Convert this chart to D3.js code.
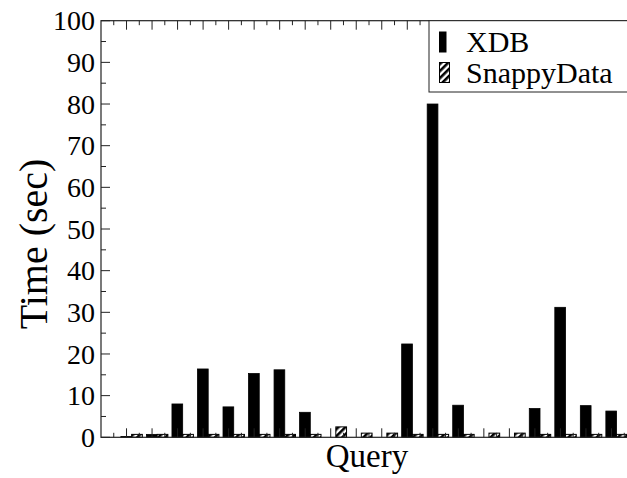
<!DOCTYPE html>
<html>
<head>
<meta charset="utf-8">
<script src="https://cdn.jsdelivr.net/npm/d3@7"></script>
<style>
  html, body { margin: 0; padding: 0; background: #fff; }
  svg { display: block; font-family: "Liberation Serif", "DejaVu Serif", serif; }
</style>
</head>
<body>
<div id="chart"></div>
<script>
// query runtimes, XDB vs SnappyData (seconds)
const queries = ["Q1","Q2","Q3","Q4","Q5","Q6","Q7","Q8","Q9","Q10",
                 "Q11","Q12","Q13","Q14","Q15","Q16","Q17","Q18","Q19","Q20"];
const xdbTimes    = [0.2, 0.7, 8.0, 16.4, 7.3, 15.3, 16.2, 6.0, 0, 0,
                     0, 22.4, 80.0, 7.7, 0, 0, 6.9, 31.2, 7.6, 6.3];
const snappyTimes = [0.7, 0.7, 0.7, 0.7, 0.7, 0.7, 0.7, 0.7, 2.5, 1.0,
                     1.0, 0.7, 0.7, 0.7, 1.0, 1.0, 0.7, 0.7, 0.7, 0.7];
const yTicks = [0, 10, 20, 30, 40, 50, 60, 70, 80, 90, 100];
const seriesNames = ["XDB", "SnappyData"];

const W = 627, H = 478;
const plotL = 101, plotR = 637, plotT = 20.7, plotB = 437.3;

const svg = d3.select("#chart")
  .append("svg")
  .attr("width", W)
  .attr("height", H);

// hatch pattern for SnappyData
const defs = svg.append("defs");
defs.append("pattern")
  .attr("id", "hatch")
  .attr("patternUnits", "userSpaceOnUse")
  .attr("width", 5)
  .attr("height", 5)
  .attr("patternTransform", "rotate(45)")
  .call(p => {
    p.append("rect").attr("width", 5).attr("height", 5).attr("fill", "#fff");
    p.append("rect").attr("width", 2.6).attr("height", 5).attr("fill", "#000");
  });

const x = d3.scaleLinear()
  .domain([-1, queries.length])
  .range([plotL, plotR]);

const y = d3.scaleLinear()
  .domain([0, 100])
  .range([plotB, plotT]);

// bar offsets in group units
const xdbFrom = -0.22, split = 0.20, snapTo = 0.62;

const g = svg.append("g");

// XDB bars
g.selectAll(".xdb")
  .data(xdbTimes.map((v, i) => ({ v, i })).filter(d => d.v > 0))
  .enter()
  .append("rect")
  .attr("class", "xdb")
  .attr("x", d => x(d.i + xdbFrom))
  .attr("width", x(split) - x(xdbFrom))
  .attr("y", d => y(d.v))
  .attr("height", d => y(0) - y(d.v))
  .attr("fill", "#000")
  .attr("stroke", "#000")
  .attr("stroke-width", 0.8);

// SnappyData bars
g.selectAll(".snappy")
  .data(snappyTimes.map((v, i) => ({ v, i })).filter(d => d.v > 0))
  .enter()
  .append("rect")
  .attr("class", "snappy")
  .attr("x", d => x(d.i + split))
  .attr("width", x(snapTo) - x(split))
  .attr("y", d => y(d.v))
  .attr("height", d => y(0) - y(d.v))
  .attr("fill", "url(#hatch)")
  .attr("stroke", "#000")
  .attr("stroke-width", 1);

// ===== AXES / FRAME =====
const axisColor = "#222";
const majorX = queries.map((q, i) => i);
const minorX = d3.range(-0.5, queries.length, 1);
const minorY = d3.range(5, 100, 10);

const ticks = svg.append("g")
  .attr("stroke", axisColor)
  .attr("stroke-width", 1);

// bottom + top ticks (pointing inward)
majorX.forEach(i => {
  ticks.append("line").attr("x1", x(i)).attr("x2", x(i)).attr("y1", plotB).attr("y2", plotB - 9);
  ticks.append("line").attr("x1", x(i)).attr("x2", x(i)).attr("y1", plotT).attr("y2", plotT + 9);
});
minorX.forEach(i => {
  ticks.append("line").attr("x1", x(i)).attr("x2", x(i)).attr("y1", plotB).attr("y2", plotB - 4.5);
  ticks.append("line").attr("x1", x(i)).attr("x2", x(i)).attr("y1", plotT).attr("y2", plotT + 4.5);
});

// left + right ticks
yTicks.forEach(t => {
  ticks.append("line").attr("x1", plotL).attr("x2", plotL + 9).attr("y1", y(t)).attr("y2", y(t));
  ticks.append("line").attr("x1", plotR).attr("x2", plotR - 10).attr("y1", y(t)).attr("y2", y(t));
});
minorY.forEach(t => {
  ticks.append("line").attr("x1", plotL).attr("x2", plotL + 5).attr("y1", y(t)).attr("y2", y(t));
  ticks.append("line").attr("x1", plotR).attr("x2", plotR - 5).attr("y1", y(t)).attr("y2", y(t));
});

svg.append("rect")
  .attr("x", plotL)
  .attr("y", plotT)
  .attr("width", plotR - plotL)
  .attr("height", plotB - plotT)
  .attr("fill", "none")
  .attr("stroke", axisColor)
  .attr("stroke-width", 1.2);

// y tick labels
svg.selectAll(".ylab")
  .data(yTicks)
  .enter()
  .append("text")
  .attr("class", "ylab")
  .attr("x", 95)
  .attr("y", d => y(d))
  .attr("dy", "0.34em")
  .attr("text-anchor", "end")
  .style("font-size", "28px")
  .text(d => d);

// axis titles
svg.append("text")
  .attr("transform", "translate(47,244) rotate(-90)")
  .attr("text-anchor", "middle")
  .style("font-size", "40px")
  .text("Time (sec)");

svg.append("text")
  .attr("x", (plotL + plotR) / 2 - 2)
  .attr("y", 467)
  .attr("text-anchor", "middle")
  .style("font-size", "33px")
  .text("Query");

// ===== LEGEND =====
const legend = svg.append("g");
legend.append("rect")
  .attr("x", 429)
  .attr("y", plotT)
  .attr("width", plotR - 429)
  .attr("height", 92 - plotT)
  .attr("fill", "#fff")
  .attr("stroke", axisColor)
  .attr("stroke-width", 1);

const legendFills = ["#000", "url(#hatch)"];
const legendW = [6.5, 10];
seriesNames.forEach((name, i) => {
  const ly = 32 + i * 30.5;
  legend.append("rect")
    .attr("x", 439.5)
    .attr("y", ly)
    .attr("width", legendW[i])
    .attr("height", 20)
    .attr("fill", legendFills[i])
    .attr("stroke", "#000")
    .attr("stroke-width", 1);
  legend.append("text")
    .attr("x", 466)
    .attr("y", ly + 20)
    .style("font-size", "30px")
    .text(name);
});
</script>
</body>
</html>
